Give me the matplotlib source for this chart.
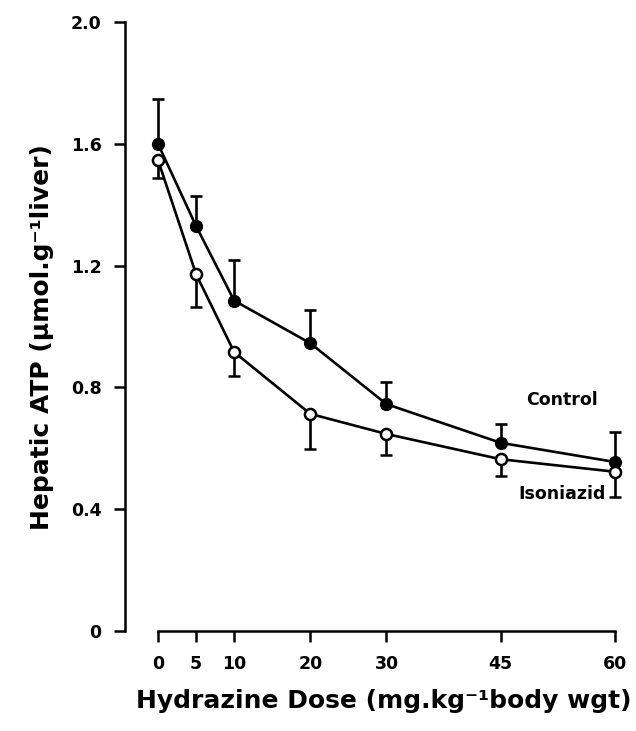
import matplotlib
matplotlib.use("Agg")
import matplotlib.pyplot as plt

# Hydrazine dose groups (mg/kg body weight)
doses = [0, 5, 10, 20, 30, 45, 60]

# Hepatic ATP (umol/g liver), mean and error
control_mean = [1.60, 1.33, 1.085, 0.945, 0.745, 0.618, 0.555]
control_err = [0.147, 0.10, 0.133, 0.108, 0.074, 0.062, 0.10]
isoniazid_mean = [1.547, 1.172, 0.916, 0.713, 0.647, 0.564, 0.523]
isoniazid_err = [0.06, 0.108, 0.079, 0.116, 0.069, 0.055, 0.082]

y_ticks = [0, 0.4, 0.8, 1.2, 1.6, 2.0]
y_ticklabels = ["0", "0.4", "0.8", "1.2", "1.6", "2.0"]

plt.rcParams["font.family"] = ["DejaVu Sans"]
plt.rcParams["font.weight"] = "bold"

fig = plt.figure(figsize=(6.36, 7.31), dpi=100)
W, H = 636, 731
ax = fig.add_axes([125 / W, (H - 631) / H, (615 - 125) / W, (631 - 22) / H])

lw = 1.9
# Control: filled circles, upper error bars
ax.errorbar(doses, control_mean, yerr=[[0] * len(doses), control_err],
            fmt="-o", color="black", lw=lw, elinewidth=lw, capsize=4,
            capthick=lw, markersize=8.5, markerfacecolor="black",
            markeredgecolor="black", clip_on=False, zorder=3)
# Isoniazid: open circles, lower error bars
ax.errorbar(doses, isoniazid_mean, yerr=[isoniazid_err, [0] * len(doses)],
            fmt="-o", color="black", lw=lw, elinewidth=lw, capsize=4,
            capthick=lw, markersize=8, markerfacecolor="white",
            markeredgecolor="black", markeredgewidth=1.8, clip_on=False,
            zorder=4)

ax.set_xlim(-4.33, 60)
ax.set_ylim(0, 2.0)

for side in ("top", "right"):
    ax.spines[side].set_visible(False)
ax.spines["left"].set_linewidth(1.8)
ax.spines["bottom"].set_linewidth(1.8)
ax.spines["bottom"].set_bounds(0, 60)
ax.spines["left"].set_bounds(0, 2.0)

ax.set_xticks(doses)
ax.set_xticklabels([str(d) for d in doses])
ax.set_yticks(y_ticks)
ax.set_yticklabels(y_ticklabels)
ax.tick_params(axis="both", direction="out", length=8, width=1.8,
               labelsize=12.5, pad=9)
for lab in ax.get_xticklabels() + ax.get_yticklabels():
    lab.set_fontweight("bold")

ax.set_xlabel("Hydrazine Dose (mg.kg⁻¹body wgt)", fontsize=18,
              fontweight="bold", labelpad=12, x=0.529)
ax.set_ylabel("Hepatic ATP (µmol.g⁻¹liver)", fontsize=18,
              fontweight="bold", labelpad=12, y=0.483)

ax.text(53.0, 0.76, "Control", fontsize=12.5, fontweight="bold",
        ha="center", va="center")
ax.text(53.0, 0.45, "Isoniazid", fontsize=12.5, fontweight="bold",
        ha="center", va="center")

fig.savefig("out.png", dpi=100)
